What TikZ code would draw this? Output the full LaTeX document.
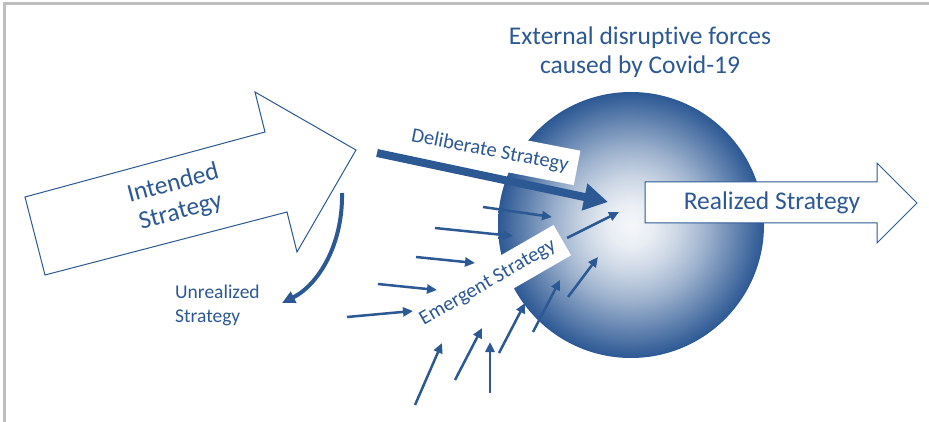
\documentclass[tikz,border=0pt]{standalone}
\usepackage{fontspec}
\setmainfont{Carlito}[Ligatures={NoCommon}]
\usetikzlibrary{arrows.meta}
\definecolor{stratblue}{RGB}{44,88,148}
\definecolor{framegray}{RGB}{190,190,190}
\pgfdeclareradialshading{covidball}{\pgfpoint{0bp}{0bp}}{color(0bp)=(white!95!stratblue); color(4bp)=(white!90!stratblue); color(9bp)=(white!75!stratblue); color(14bp)=(white!55!stratblue); color(19bp)=(white!30!stratblue); color(25bp)=(stratblue); color(50bp)=(stratblue)}

\begin{document}
\begin{tikzpicture}[x=1pt, y=-1pt,
            hollow/.style={draw=stratblue, fill=white, line width=1pt},
            bigtext/.style={text=stratblue, font=\fontsize{25.5}{29}\selectfont, align=center},
            labelbox/.style={fill=white, text=stratblue, font=\fontsize{20.5}{24}\selectfont, inner xsep=9pt, minimum height=35pt},
            force/.style={stratblue, line width=2.5pt, -{Triangle[length=10pt,width=9pt]}}]
            \useasboundingbox (0,0) rectangle (929,422);
            \draw [framegray, line width=3pt] (4,422) -- (4,4) -- (929,4);
            \node (title) [bigtext] at (640,52) {External disruptive forces\\caused by Covid-19};
            \coordinate (sphere) at (631,225);
            \shade [shading=covidball] (sphere) circle (133);
            \node (deliberate) [labelbox, rotate=-11] at (490,151) {Deliberate Strategy};
            \node (emergent) [labelbox, rotate=30] at (488,283) {Emergent Strategy};
            \foreach \n/\sx/\sy/\tx/\ty in {1/483/207/552/217, 2/435/228/513/236, 3/416/257/475/263, 4/378/284/437/290,
                5/347/317/413/311, 6/415/405/442/343, 7/455/380/482/328, 8/490/393/490/342,
                9/499/353/525/303, 10/533/332/560/280, 11/568/297/598/257, 12/567/238/619/212} {
              \coordinate (fs\n) at (\sx,\sy);
              \coordinate (ft\n) at (\tx,\ty);
              \draw [force] (fs\n) -- (ft\n);
            }
            \coordinate (delstart) at (377,153);
            \coordinate (deltip) at (608,202);
            \draw [stratblue, line width=8pt, -{Triangle[length=24pt,width=26pt]}] (delstart) -- (deltip);
            \draw [hollow] (25,197) -- (265,132) -- (255,92) -- (356,150) -- (297,252) -- (287,212) -- (45,275) -- cycle;
            \node (intended) [bigtext, rotate=15] at (177,198) {Intended\\Strategy};
            \coordinate (unstart) at (342,193);
            \coordinate (untip) at (282,303);
            \draw [stratblue, line width=4pt, -{Triangle[length=13pt,width=12pt]}] (unstart) .. controls (343,245) and (318,285) .. (untip);
            \node (unrealized) [text=stratblue, font=\fontsize{19.5}{24}\selectfont, align=left, anchor=west, inner sep=0pt] at (175,305) {Unrealized\\Strategy};
            \draw [hollow] (645,182) -- (877,182) -- (877,163) -- (917,203) -- (877,243) -- (877,223) -- (645,223) -- cycle;
            \node (realized) [bigtext] at (772,203) {Realized Strategy};
\end{tikzpicture}
\end{document}
